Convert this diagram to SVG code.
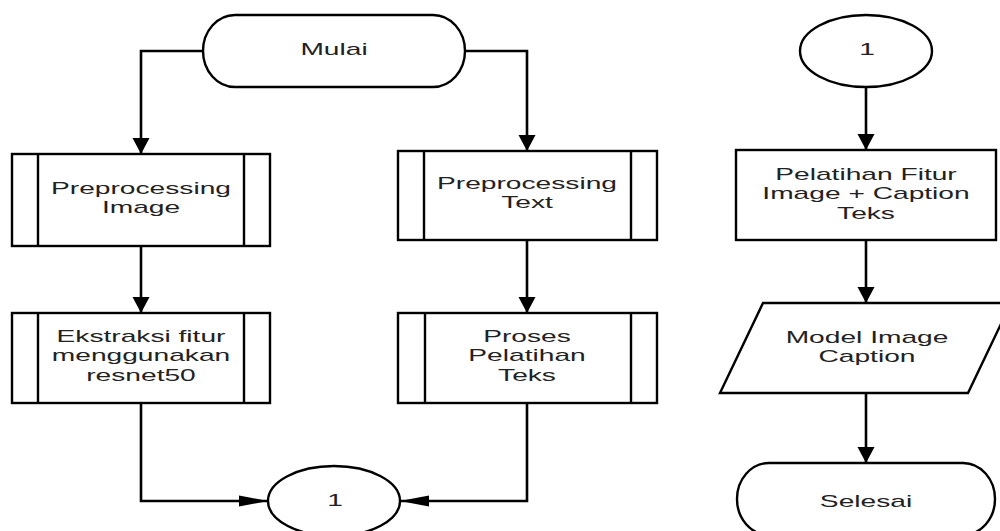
<svg xmlns="http://www.w3.org/2000/svg" width="1000" height="531" viewBox="0 0 1000 531">
  <style>
    .shape { fill: #ffffff; stroke: #000000; stroke-width: 2.4; }
    .edge { fill: none; stroke: #000000; stroke-width: 2.6; }
    .lbl { font-family: "Liberation Sans", Arial, sans-serif; font-size: 16px; fill: #222222; text-anchor: middle; }
  </style>
  <defs>
    <!-- vertical arrows are narrow-long, horizontal ones long-flat -->
    <marker id="arrV" markerUnits="userSpaceOnUse" markerWidth="18" markerHeight="18" refX="16" refY="9" orient="auto">
      <path d="M0,0.5 L16,9 L0,17.5 Z" fill="#000000"/>
    </marker>
    <marker id="arrH" markerUnits="userSpaceOnUse" markerWidth="30" markerHeight="12" refX="29" refY="6" orient="auto">
      <path d="M0,0.5 L29,6 L0,11.5 Z" fill="#000000"/>
    </marker>
  </defs>
  <rect width="1000" height="531" fill="#ffffff"/>

  <g id="connectors">
    <path class="edge" d="M203,51 H141 V154" marker-end="url(#arrV)"/>
    <path class="edge" d="M465,51 H527 V151" marker-end="url(#arrV)"/>
    <path class="edge" d="M141,246 V313" marker-end="url(#arrV)"/>
    <path class="edge" d="M527,240 V313" marker-end="url(#arrV)"/>
    <path class="edge" d="M141,403 V501 H268" marker-end="url(#arrH)"/>
    <path class="edge" d="M527,403 V501 H400" marker-end="url(#arrH)"/>
    <path class="edge" d="M866,87 V150" marker-end="url(#arrV)"/>
    <path class="edge" d="M866,240 V303" marker-end="url(#arrV)"/>
    <path class="edge" d="M866,393 V463" marker-end="url(#arrV)"/>
  </g>

  <g id="mulai">
    <path class="shape" d="M235,15 H433 A32,36 0 0 1 433,87 H235 A32,36 0 0 1 235,15 Z"/>
    <text class="lbl" transform="translate(334,55) scale(1.76,1)">Mulai</text>
  </g>

  <g id="preprocessing-image">
    <rect class="shape" x="12" y="154" width="258" height="92"/>
    <path class="shape" d="M38,154 V246 M244,154 V246"/>
    <text class="lbl" transform="translate(141,194) scale(1.76,1)"><tspan x="0">Preprocessing</tspan><tspan x="0" dy="19">Image</tspan></text>
  </g>

  <g id="preprocessing-text">
    <rect class="shape" x="398" y="151" width="259" height="89"/>
    <path class="shape" d="M424,151 V240 M631,151 V240"/>
    <text class="lbl" transform="translate(527,189) scale(1.76,1)"><tspan x="0">Preprocessing</tspan><tspan x="0" dy="19">Text</tspan></text>
  </g>

  <g id="ekstraksi-fitur">
    <rect class="shape" x="12" y="313" width="258" height="90"/>
    <path class="shape" d="M38,313 V403 M244,313 V403"/>
    <text class="lbl" transform="translate(141,342) scale(1.76,1)"><tspan x="0">Ekstraksi fitur</tspan><tspan x="0" dy="19.5">menggunakan</tspan><tspan x="0" dy="19.5">resnet50</tspan></text>
  </g>

  <g id="proses-pelatihan">
    <rect class="shape" x="398" y="313" width="259" height="90"/>
    <path class="shape" d="M425,313 V403 M631,313 V403"/>
    <text class="lbl" transform="translate(527,342) scale(1.76,1)"><tspan x="0">Proses</tspan><tspan x="0" dy="19.5">Pelatihan</tspan><tspan x="0" dy="19.5">Teks</tspan></text>
  </g>

  <g id="connector-1-bottom">
    <ellipse class="shape" cx="334" cy="501" rx="66" ry="35"/>
    <text class="lbl" transform="translate(335,506) scale(1.76,1)">1</text>
  </g>

  <g id="connector-1-top">
    <ellipse class="shape" cx="866" cy="51" rx="66" ry="36"/>
    <text class="lbl" transform="translate(867,55) scale(1.76,1)">1</text>
  </g>

  <g id="pelatihan-fitur">
    <rect class="shape" x="736" y="150" width="260" height="90"/>
    <text class="lbl" transform="translate(866,180) scale(1.76,1)"><tspan x="0">Pelatihan Fitur</tspan><tspan x="0" dy="19.5">Image + Caption</tspan><tspan x="0" dy="19.5">Teks</tspan></text>
  </g>

  <g id="model-image-caption">
    <polygon class="shape" points="763,303 1011,303 968,393 720,393"/>
    <text class="lbl" transform="translate(867,343) scale(1.76,1)"><tspan x="0">Model Image</tspan><tspan x="0" dy="19.5">Caption</tspan></text>
  </g>

  <g id="selesai">
    <path class="shape" d="M769,463 H963 A32,36 0 0 1 963,535 H769 A32,36 0 0 1 769,463 Z"/>
    <text class="lbl" transform="translate(866,507) scale(1.76,1)">Selesai</text>
  </g>
</svg>
